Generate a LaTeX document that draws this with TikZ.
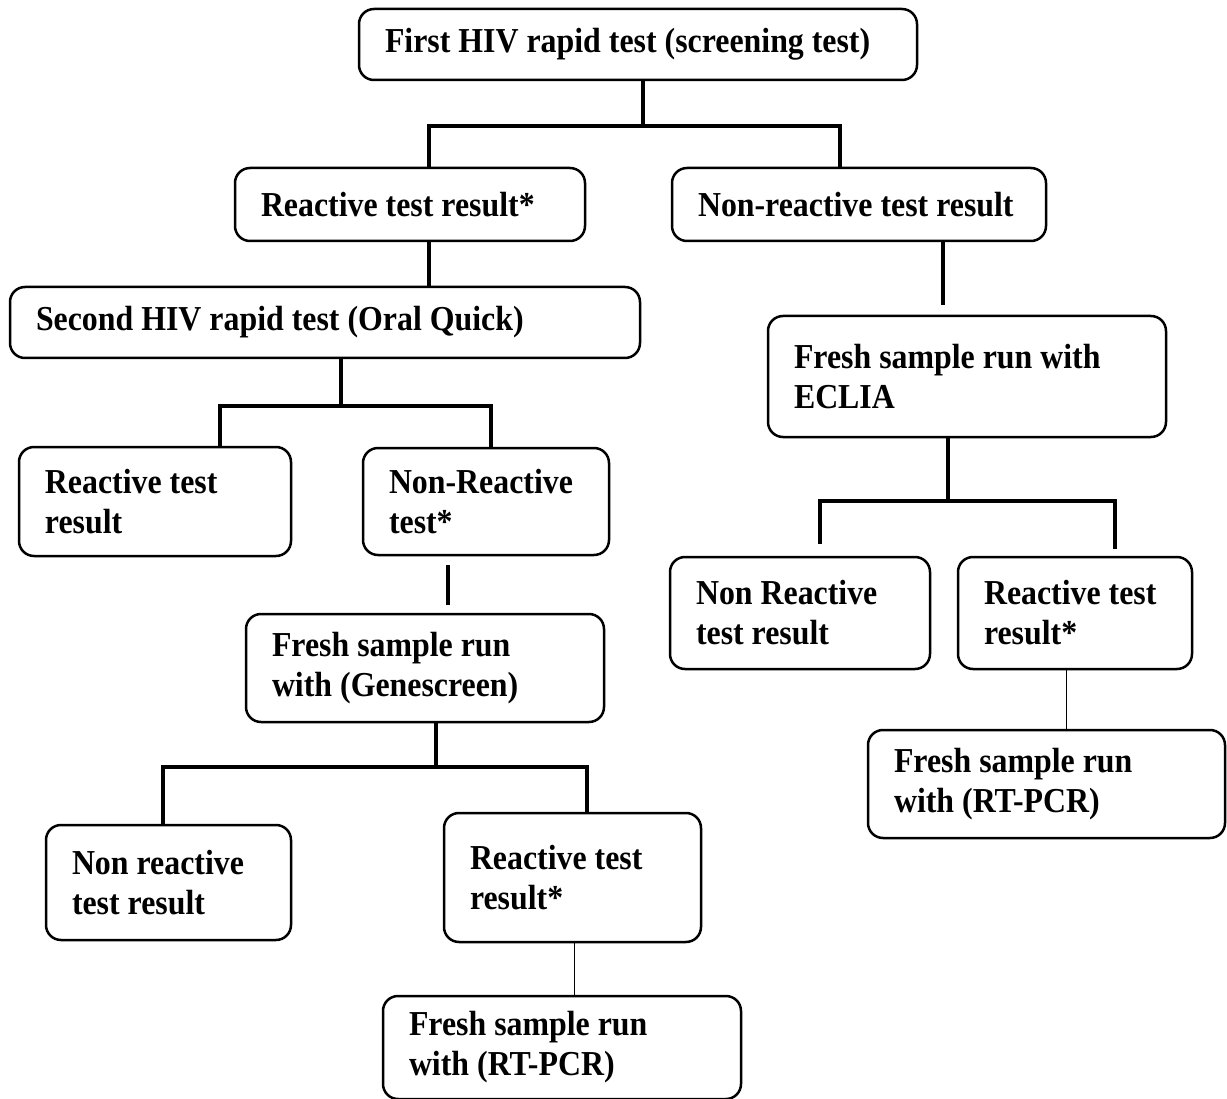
\documentclass[tikz,border=0pt]{standalone}
\usepackage{fontspec}
\setmainfont{Liberation Serif}[FakeStretch=0.91]
\usetikzlibrary{calc}
\hyphenpenalty=10000
\newcommand{\boxfont}{\fontsize{35}{40}\selectfont\bfseries}
\newcommand{\boxspace}{\spaceskip=8pt\relax\xspaceskip=8pt\relax}

\begin{document}
\begin{tikzpicture}[x=1pt,y=1pt,
    box/.style={draw,rectangle,rounded corners=15pt,line width=2.5pt,align=left,inner xsep=26pt,inner ysep=0pt,font=\boxfont,execute at begin node=\boxspace},
    conn/.style={line width=4pt},
    thinconn/.style={line width=1pt}]
  \useasboundingbox (0,0) rectangle (1227,-1099);
  \node[box,text width=506pt,minimum height=71pt] (first) at (638,-44.5) {First HIV rapid test (screening test)};
  \node[box,text width=298pt,minimum height=73pt,node distance=160pt,below of=first,xshift=-228pt] (react1) {Reactive test result*};
  \node[box,text width=322pt,minimum height=73pt,node distance=449pt,right of=react1] (nonreact1) {Non-reactive test result};
  \node[box,text width=578pt,minimum height=71pt,node distance=118pt,below of=react1,xshift=-85pt] (second) {Second HIV rapid test (Oral Quick)};
  \node[box,text width=346pt,minimum height=121pt,node distance=172pt,below of=nonreact1,xshift=108pt] (eclia) {Fresh sample run with\\ECLIA};
  \node[box,text width=220pt,minimum height=109pt,node distance=179pt,below of=second,xshift=-170pt] (react2) {Reactive test\\result};
  \node[box,text width=194pt,minimum height=107pt,node distance=331pt,right of=react2] (nonreact2) {Non-Reactive\\test*};
  \node[box,text width=306pt,minimum height=108pt,node distance=166.5pt,below of=nonreact2,xshift=-61pt] (gene) {Fresh sample run\\with (Genescreen)};
  \node[box,text width=208pt,minimum height=112pt,node distance=236.5pt,below of=eclia,xshift=-167pt] (nonreact3) {Non Reactive\\test result};
  \node[box,text width=182pt,minimum height=112pt,node distance=275pt,right of=nonreact3] (react3) {Reactive test\\result*};
  \node[box,text width=305pt,minimum height=108pt,node distance=171pt,below of=react3,xshift=-28.5pt] (pcr1) {Fresh sample run\\with (RT-PCR)};
  \node[box,text width=193pt,minimum height=115pt,node distance=214.5pt,below of=gene,xshift=-256.5pt] (nonreact4) {Non reactive\\test result};
  \node[box,text width=205pt,minimum height=129pt,node distance=209.5pt,below of=gene,xshift=147.5pt] (react4) {Reactive test\\result*};
  \node[box,text width=306pt,minimum height=103pt,node distance=170pt,below of=react4,xshift=-10.5pt] (pcr2) {Fresh sample run\\with (RT-PCR)};

  \draw[conn] ($(first.south)+(5,0)$) -- ++(0,-45) coordinate (j1);
  \draw[conn] ($(react1.north)+(19,0)$) |- (j1) -| ($(nonreact1.north)+(-19,0)$);
  \draw[conn] ($(react1.south)+(19,0)$) -- ($(second.north)+(104,0)$);
  \draw[conn] ($(nonreact1.south)+(84,0)$) -- ($(eclia.north)+(-24,10)$);
  \draw[conn] ($(second.south)+(16,0)$) -- ++(0,-47) coordinate (j2);
  \draw[conn] ($(react2.north)+(65,0)$) |- (j2) -| ($(nonreact2.north)+(5,0)$);
  \draw[conn] ($(nonreact2.south)+(-38,-9)$) -- ($(gene.north)+(23,8)$);
  \draw[conn] ($(gene.south)+(11,0)$) -- ++(0,-44) coordinate (j3);
  \draw[conn] ($(nonreact4.north)+(-5.5,0)$) |- (j3) -| ($(react4.north)+(14.5,0)$);
  \draw[conn] ($(eclia.south)+(-19,0)$) -- ++(0,-63) coordinate (j4);
  \draw[conn] ($(nonreact3.north)+(20,12)$) |- (j4) -| ($(react3.north)+(40,7)$);
  \draw[thinconn] ($(react3.south)+(-9,0)$) -- ($(pcr1.north)+(19.5,0)$);
  \draw[thinconn] ($(react4.south)+(1.5,0)$) -- ($(pcr2.north)+(12,0)$);
\end{tikzpicture}
\end{document}
